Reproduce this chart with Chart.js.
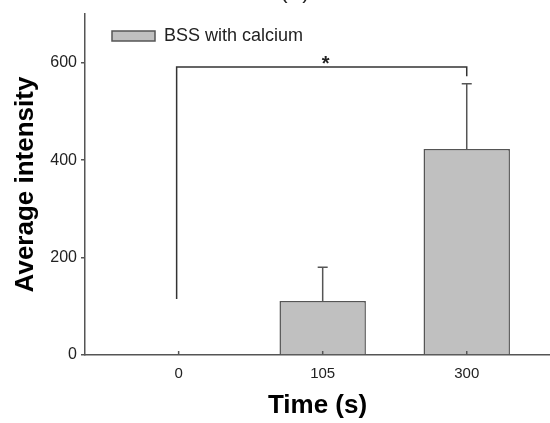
<!DOCTYPE html>
<html>
<head>
<meta charset="utf-8">
<script src="https://cdn.jsdelivr.net/npm/chart.js@4.4.0/dist/chart.umd.min.js"></script>
<style>
  html, body { margin:0; padding:0; background:#fff; }
  #wrap { width:550px; height:423px; position:relative; }
</style>
</head>
<body>
<div id="wrap"><canvas id="c"></canvas></div>
<script>
// data
const timeLabels = ["0", "105", "300"];
const intensity = [0, 111, 423];
const errUp = [0, 69, 134];
const seriesName = "BSS with calcium";

// significance bracket between 0 s and 300 s (data units)
const sigFrom = 0, sigTo = 2, sigLevel = 591, sigLeftEnd = 115, sigRightEnd = 572;

const X_MIN = -0.65, X_MAX = 2.578;
const AX = "#555";
const FONT = "'Liberation Sans', Arial, Helvetica, sans-serif";

const extras = {
  id: "extras",
  afterDatasetsDraw(chart) {
    const { ctx, scales: { x, y } } = chart;
    ctx.save();
    ctx.strokeStyle = AX;
    ctx.lineWidth = 1.5;
    // error bars
    intensity.forEach((v, i) => {
      if (!errUp[i]) return;
      const px = x.getPixelForValue(i);
      const top = y.getPixelForValue(v + errUp[i]);
      ctx.beginPath();
      ctx.moveTo(px, y.getPixelForValue(v));
      ctx.lineTo(px, top);
      ctx.moveTo(px - 5, top);
      ctx.lineTo(px + 5, top);
      ctx.stroke();
    });
    // inward x ticks
    timeLabels.forEach((_, i) => {
      const px = x.getPixelForValue(i);
      ctx.beginPath();
      ctx.moveTo(px, y.bottom);
      ctx.lineTo(px, y.bottom - 4);
      ctx.stroke();
    });
    // bracket
    const x0 = x.getPixelForValue(sigFrom) - 2, x1 = x.getPixelForValue(sigTo);
    const yl = y.getPixelForValue(sigLevel);
    ctx.strokeStyle = "#333";
    ctx.beginPath();
    ctx.moveTo(x0, y.getPixelForValue(sigLeftEnd));
    ctx.lineTo(x0, yl);
    ctx.lineTo(x1, yl);
    ctx.lineTo(x1, y.getPixelForValue(sigRightEnd));
    ctx.stroke();
    ctx.fillStyle = "#222";
    ctx.font = "bold 20px " + FONT;
    ctx.textAlign = "center";
    ctx.textBaseline = "alphabetic";
    ctx.fillText("*", (x0 + x1) / 2 + 4, yl + 3);
    // panel letter, cut off at the top edge
    ctx.font = "22px " + FONT;
    ctx.fillText("(A)", 295, -2);
    ctx.restore();
  }
};

new Chart(document.getElementById("c"), {
  type: "bar",
  data: {
    datasets: [{
      label: seriesName,
      data: intensity.map((v, i) => ({ x: i, y: v })),
      backgroundColor: "#c0c0c0",
      borderColor: AX,
      borderWidth: 1.5,
      barPercentage: 0.6,
      categoryPercentage: 1
    }]
  },
  options: {
    responsive: true,
    maintainAspectRatio: false,
    animation: false,
    layout: { padding: { top: 14, right: 0, left: 0, bottom: 0 } },
    plugins: {
      legend: {
        position: "chartArea",
        align: "start",
        labels: {
          boxWidth: 43, boxHeight: 10, padding: 27,
          color: "#222",
          font: { family: FONT, size: 18 }
        }
      },
      tooltip: { enabled: false }
    },
    scales: {
      x: {
        type: "linear",
        offset: false,
        min: X_MIN, max: X_MAX,
        afterBuildTicks: s => {
          s.ticks = timeLabels.map((_, i) => ({ value: i }));
          s.min = X_MIN; s.max = X_MAX;
        },
        afterFit: s => { s.height = 68; },
        ticks: {
          callback: v => timeLabels[v],
          color: "#222", padding: 10,
          font: { family: FONT, size: 15 }
        },
        grid: { display: false, drawTicks: false },
        border: { color: AX, width: 1.5 },
        title: {
          display: true, text: "Time (s)", color: "#000",
          font: { family: FONT, size: 26, weight: "bold" },
          padding: { top: 0, bottom: 2 }
        }
      },
      y: {
        min: 0, max: 700,
        afterFit: s => { s.width = 85; },
        ticks: {
          stepSize: 200, includeBounds: false,
          color: "#222", padding: 4,
          font: { family: FONT, size: 16 }
        },
        grid: { drawOnChartArea: false, drawTicks: true, tickLength: 4, color: AX, lineWidth: 1.5 },
        border: { color: AX, width: 1.5 },
        title: {
          display: true, text: "Average intensity", color: "#000",
          font: { family: FONT, size: 26, weight: "bold" },
          padding: { top: 10, bottom: 0 }
        }
      }
    }
  },
  plugins: [extras]
});
</script>
</body>
</html>
